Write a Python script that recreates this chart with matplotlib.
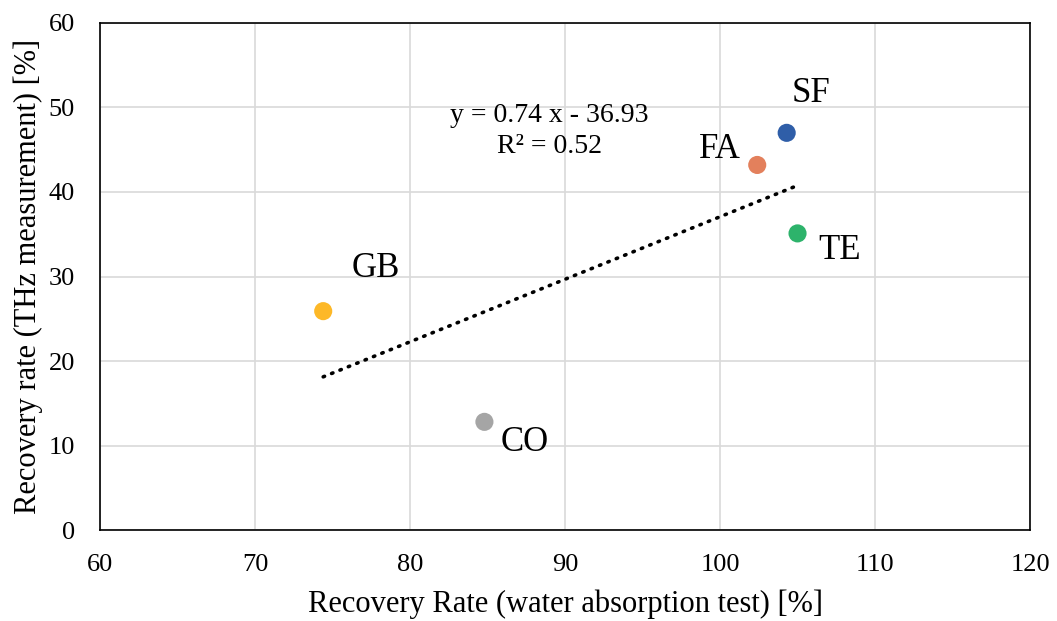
import numpy as np
import matplotlib
matplotlib.use('Agg')
import matplotlib.pyplot as plt

plt.rcParams['font.family'] = ['Liberation Serif', 'DejaVu Serif']

# Data
names = ['GB', 'CO', 'FA', 'SF', 'TE']
water_rate = [74.4, 84.8, 102.4, 104.3, 105.0]
thz_rate = [25.9, 12.8, 43.2, 47.0, 35.1]
colors = ['#FDB827', '#A5A5A5', '#E3805C', '#2F5EA8', '#2DB36B']
label_pos = [(77.8, 31.0), (87.4, 10.4), (100.0, 45.0), (105.9, 51.7), (107.7, 33.1)]

# Linear trendline
slope, intercept = 0.74, -36.93
r2 = 0.52

fig, ax = plt.subplots(figsize=(10.57, 6.21), dpi=100)
fig.subplots_adjust(left=0.0946, right=0.9745, bottom=0.1465, top=0.963)

xs = np.array([min(water_rate), max(water_rate)])
ax.plot(xs, slope * xs + intercept, color='black', linewidth=2.6,
        linestyle=(0, (0.4, 2.1)), dash_capstyle='round', zorder=2)

ax.scatter(water_rate, thz_rate, s=170, c=colors, zorder=3, linewidths=0)

for name, (lx, ly) in zip(names, label_pos):
    ax.text(lx, ly, name, fontsize=25, ha='center', va='center')

ax.text(89.0, 49.1, 'y = 0.74 x - 36.93', fontsize=20, ha='center', va='center')
ax.text(89.0, 45.4, f'R² = {r2:.2f}', fontsize=20, ha='center', va='center')

ax.set_xlim(60, 120)
ax.set_ylim(0, 60)
ax.set_xticks(range(60, 121, 10))
ax.set_yticks(range(0, 61, 10))
ax.tick_params(length=0, labelsize=19)
ax.tick_params(axis='x', pad=17)
ax.tick_params(axis='y', pad=18)
ax.grid(True, color='#D9D9D9', linewidth=1.2)
ax.set_axisbelow(True)
for sp in ax.spines.values():
    sp.set_color('black')
    sp.set_linewidth(1.2)

ax.set_xlabel('Recovery Rate (water absorption test) [%]', fontsize=22, labelpad=10)
ax.set_ylabel('Recovery rate (THz measurement) [%]', fontsize=22, labelpad=4)

plt.savefig('out.png', dpi=100)
